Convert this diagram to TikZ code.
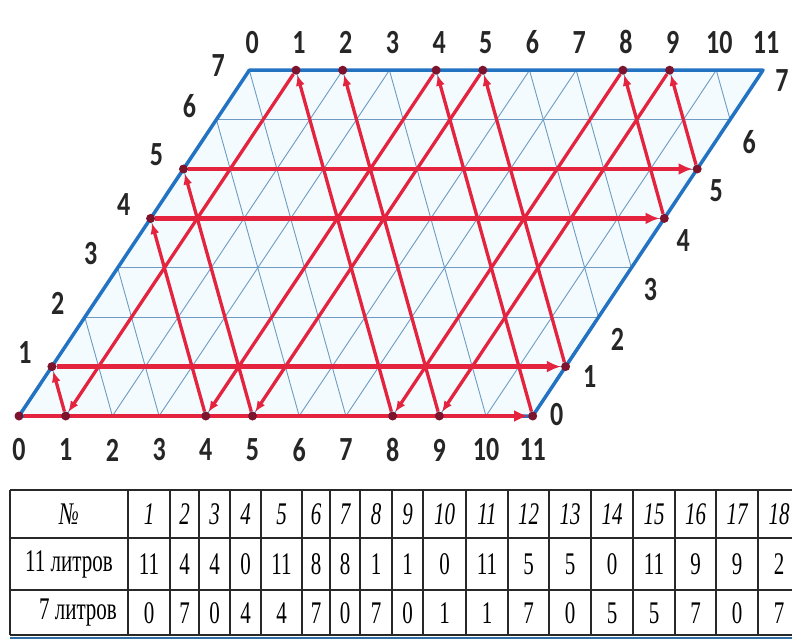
\documentclass[tikz,border=0pt]{standalone}
\usepackage{fontspec}
\setmainfont{Liberation Serif}
\newfontfamily\labfont{Carlito}
\usetikzlibrary{arrows.meta}
\definecolor{gridblue}{RGB}{110,155,195}
\definecolor{edgeblue}{RGB}{35,115,195}
\definecolor{pathred}{RGB}{228,36,62}
\definecolor{dotred}{RGB}{125,20,45}
\definecolor{fillblue}{RGB}{243,251,254}
\definecolor{tabline}{RGB}{40,40,40}
\definecolor{stripblue}{RGB}{45,110,165}
\tikzset{
  gridline/.style={draw=gridblue, line width=0.9pt},
  edgeline/.style={draw=edgeblue, line width=3.5pt, line join=round},
  hpath/.style={draw=pathred, line width=4.8pt, -{Latex[length=14pt,width=12pt]}},
  dpath/.style={draw=pathred, line width=3.3pt, -{Latex[length=11pt,width=9pt]}},
  vpt/.style={circle, minimum size=9pt, inner sep=0pt},
  lab/.style={font=\labfont\bfseries\fontsize{26}{26}\selectfont, inner sep=0pt, yscale=1.3, text=black!85},
  cell/.style={font=\fontsize{21}{21}\selectfont, inner sep=0pt, yscale=1.5},
  tline/.style={draw=tabline, line width=1.1pt},
}
\begin{document}
\begin{tikzpicture}[x=1pt,y=-1pt]
\useasboundingbox (0,0) rectangle (792,639);
\clip (0,0) rectangle (792,639);
\begin{scope}[shift={(19,416)}, x={(46.7pt,0pt)}, y={(32.9pt,49.4pt)}]
  \foreach \a in {0,...,11} {\coordinate (B\a) at (\a,0); \coordinate (T\a) at (\a,7);}
  \foreach \b in {0,...,7} {\coordinate (L\b) at (0,\b); \coordinate (R\b) at (11,\b);}
  \foreach \i/\a/\b in {0/0/0,1/11/0,2/4/7,3/4/0,4/0/4,5/11/4,6/8/7,7/8/0,8/1/7,9/1/0,10/0/1,11/11/1,12/5/7,13/5/0,14/0/5,15/11/5,16/9/7,17/9/0,18/2/7}
    \node[vpt] (s\i) at (\a,\b) {};
\end{scope}
% background
\fill[fillblue] (B0) -- (B11) -- (T11) -- (T0) -- cycle;
% grid
\foreach \b in {1,...,6} \draw[gridline] (L\b) -- (R\b);
\foreach \a in {1,...,10} \draw[gridline] (B\a) -- (T\a);
\foreach \c in {1,...,7} \draw[gridline] (B\c) -- (L\c);
\foreach \c [evaluate=\c as \d using int(\c-7)] in {8,...,11} \draw[gridline] (B\c) -- (T\d);
\foreach \c [evaluate=\c as \d using int(\c-7), evaluate=\c as \e using int(\c-11)] in {12,...,17} \draw[gridline] (R\e) -- (T\d);
% border
\draw[edgeline] (B0) -- (T0) -- (T11) -- (B11) -- cycle;
% path
\foreach \p/\q in {1/2,2/3,3/4,5/6,6/7,7/8,8/9,9/10,11/12,12/13,13/14,15/16,16/17,17/18}
  \draw[dpath] (s\p) -- (s\q);
\foreach \p/\q in {0/1,4/5,10/11,14/15}
  \draw[hpath] (s\p) -- (s\q);
\foreach \i in {0,...,18} \fill[dotred] (s\i) circle (4.5pt);
% labels
\foreach \a in {0,...,11} {
  \node[lab] (lb\a) at ([yshift=-34pt]B\a) {\a};
  \node[lab] (lt\a) at ([xshift=3pt,yshift=28pt]T\a) {\a};
}
\foreach \b in {1,...,6} \node[lab] (ll\b) at ([xshift=-27pt,yshift=14pt]L\b) {\b};
\node[lab] (ll7) at ([xshift=-31pt,yshift=5pt]L7) {7};
\node[lab] (lr0) at ([xshift=24pt,yshift=1pt]R0) {0};
\node[lab] (lr1) at ([xshift=24pt,yshift=-10pt]R1) {1};
\foreach \b in {2,...,6} \node[lab] (lr\b) at ([xshift=19pt,yshift=-22pt]R\b) {\b};
\node[lab] (lr7) at ([xshift=19pt,yshift=-10pt]R7) {7};
% table
\foreach \y in {490,538,590,635} \draw[tline] (10,\y) -- (800,\y);
\draw[tline, line width=1.8pt] (10,538) -- (800,538);
\draw[tline, line width=1.6pt] (10,490) -- (800,490);
\foreach \x in {10,128,170,199,230,261,302,330,360,392,423,466,508,549,591,633,675,716,758}
  \draw[tline] (\x,490) -- (\x,635);
\draw[stripblue, line width=2.5pt] (10,638.5) -- (800,638.5);
\node[cell] (h0) at (69,514) {\itshape №};
\node[cell] (r0a) at (69,564) {11 литров};
\node[cell] (r0b) at (78,613) {7 литров};
\foreach \n/\xc/\u/\v in {1/149/11/0,2/184.5/4/7,3/214.5/4/0,4/245.5/0/4,5/281.5/11/4,6/316/8/7,7/345/8/0,8/376/1/7,9/407.5/1/0,10/444.5/0/1,11/487/11/1,12/528.5/5/7,13/570/5/0,14/612/0/5,15/654/11/5,16/695.5/9/7,17/737/9/0,18/779/2/7} {
  \node[cell] (h\n) at (\xc,514) {\itshape\n};
  \node[cell] (ra\n) at (\xc,564) {\u};
  \node[cell] (rb\n) at (\xc,613) {\v};
}
\end{tikzpicture}
\end{document}
